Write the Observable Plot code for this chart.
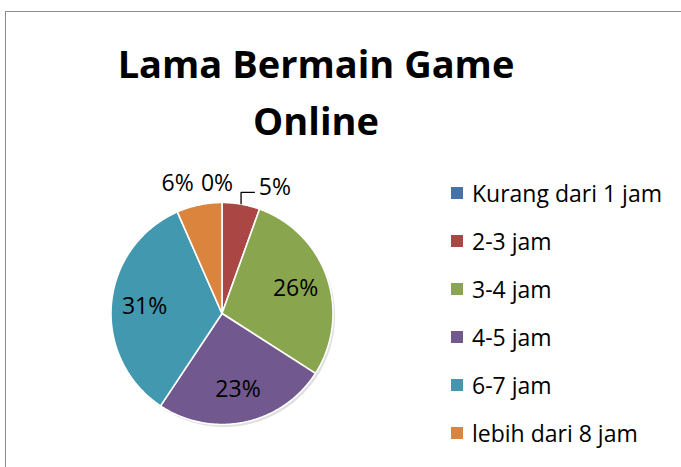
<!DOCTYPE html>
<html>
<head>
<meta charset="utf-8">
<script src="https://cdn.jsdelivr.net/npm/d3@7"></script>
<script src="https://cdn.jsdelivr.net/npm/@observablehq/plot@0.6"></script>
<style>
  body { margin: 0; background: #fff; }
  #wrap { position: relative; width: 681px; height: 467px; overflow: hidden; font-family: "Open Sans", sans-serif; color: #000; }
  #frame { position: absolute; left: 5px; top: 11px; width: 720px; height: 520px; border: 1.5px solid #8c8c8c; box-sizing: border-box; }
  #chart { position: absolute; left: 0; top: 0; }
  .tline { position: absolute; left: 66px; width: 500px; text-align: center; font-weight: bold; font-size: 38px; line-height: 40px; white-space: nowrap; }
  .lrow { position: absolute; left: 451px; height: 48px; display: flex; align-items: center; white-space: nowrap; font-size: 23px; }
  .lsw { width: 12px; height: 12px; margin-right: 9px; flex: none; }
</style>
</head>
<body>
<div id="wrap">
  <div id="frame"></div>
  <div id="chart"></div>
</div>
<script>
// ---- data ----
const categories = ["Kurang dari 1 jam", "2-3 jam", "3-4 jam", "4-5 jam", "6-7 jam", "lebih dari 8 jam"];
const values = [0, 5, 26, 23, 31, 6];
const labels = ["0%", "5%", "26%", "23%", "31%", "6%"];
const colors = ["#4572A7", "#AA4643", "#89A54E", "#71588F", "#4198AF", "#DB843D"];
const titleLines = ["Lama Bermain Game", "Online"];

// ---- layout ----
const cx = 221.5, cy = 313, R = 111;
const rows = categories.map((c, i) => ({cat: c, v: values[i], label: labels[i]}));
const arcs = d3.pie().sort(null).value(d => d.v)(rows);

// slice polygons in unit-circle data space
const pts = [];
for (const a of arcs) {
  if (a.data.v <= 0) continue;
  pts.push({x: 0, y: 0, cat: a.data.cat});
  const n = Math.max(2, Math.ceil((a.endAngle - a.startAngle) / 0.01));
  for (let k = 0; k <= n; k++) {
    const t = a.startAngle + (a.endAngle - a.startAngle) * k / n;
    pts.push({x: Math.sin(t), y: Math.cos(t), cat: a.data.cat});
  }
}

// labels: inside for big slices, outside for small ones
const total = d3.sum(values);
const nudge = {"lebih dari 8 jam": [-17, 0], "Kurang dari 1 jam": [-5, 3], "2-3 jam": [30, 5]};
const inside = [], outside = [];
let leader = [];
for (const a of arcs) {
  const m = (a.startAngle + a.endAngle) / 2;
  if (a.data.v / total >= 0.1) {
    inside.push({x: 0.7 * Math.sin(m), y: 0.7 * Math.cos(m), label: a.data.label});
  } else {
    const [dx, dy] = nudge[a.data.cat] || [0, 0];
    const lx = 1.2 * Math.sin(m) + dx / R, ly = 1.2 * Math.cos(m) - dy / R;
    outside.push({x: lx, y: ly, label: a.data.label});
    if (a.data.cat === "2-3 jam") {
      const ex = Math.sin(m), ey = Math.cos(m);
      const elbowY = ly - 5 / R;
      leader = [{x: ex, y: ey}, {x: ex, y: elbowY}, {x: lx - 20 / R, y: elbowY}];
    }
  }
}

const plot = Plot.plot({
  width: 681,
  height: 467,
  margin: 0,
  style: {background: "transparent", fontFamily: "'Open Sans', sans-serif"},
  x: {domain: [-1, 1], range: [cx - R, cx + R], axis: null},
  y: {domain: [-1, 1], range: [cy + R, cy - R], axis: null},
  color: {domain: categories, range: colors},
  marks: [
    Plot.line(pts, {x: "x", y: "y", z: "cat", fill: "#000", fillOpacity: 0.12, stroke: "none", dx: 2, dy: 2.5, curve: "linear-closed"}),
    Plot.line(pts, {x: "x", y: "y", z: "cat", fill: "cat", stroke: "#fff", strokeWidth: 1.6, curve: "linear-closed"}),
    Plot.text(inside, {x: "x", y: "y", text: "label", fontSize: 23, fill: "#000"}),
    Plot.text(outside, {x: "x", y: "y", text: "label", fontSize: 23, fill: "#000"}),
    Plot.line(leader, {x: "x", y: "y", stroke: "#000", strokeWidth: 1.3, strokeLinecap: "butt", strokeLinejoin: "miter"})
  ]
});
const wrap = document.getElementById("wrap");
document.getElementById("chart").appendChild(plot);

// title
const titleTops = [43, 100];
titleLines.forEach((t, i) => {
  const d = document.createElement("div");
  d.className = "tline";
  d.style.top = titleTops[i] + "px";
  d.textContent = t;
  wrap.appendChild(d);
});

// legend
categories.forEach((c, i) => {
  const r = document.createElement("div");
  r.className = "lrow";
  r.style.top = (193 + 48 * i - 24) + "px";
  const sw = document.createElement("span");
  sw.className = "lsw";
  sw.style.background = colors[i];
  const tx = document.createElement("span");
  tx.textContent = c;
  r.appendChild(sw);
  r.appendChild(tx);
  wrap.appendChild(r);
});
</script>
</body>
</html>
